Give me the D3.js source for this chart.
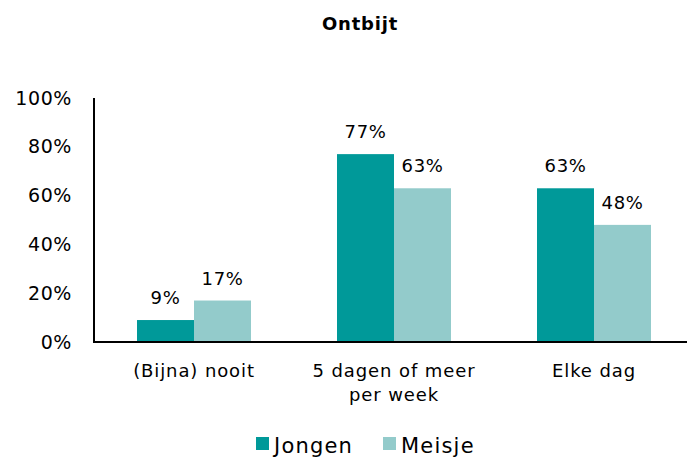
<!DOCTYPE html>
<html>
<head>
<meta charset="utf-8">
<script src="https://cdn.jsdelivr.net/npm/d3@7"></script>
<style>
  html, body { margin: 0; padding: 0; background: #fff; }
  svg { display: block; font-family: "DejaVu Sans", sans-serif; }
</style>
</head>
<body>
<svg id="chart" width="687" height="461"></svg>
<script>
// Ontbijt: share of boys and girls per breakfast frequency
const categories = [["(Bijna) nooit"], ["5 dagen of meer", "per week"], ["Elke dag"]];
const seriesNames = ["Jongen", "Meisje"];
const jongen = [9, 77, 63];
const meisje = [17, 63, 48];
const yTicks = [0, 20, 40, 60, 80, 100];
const colors = ["#009999", "#93CBCB"];

const W = 687, H = 461;
const margin = { left: 94, right: -7, top: 98, bottom: 119 };
const svg = d3.select("#chart");

const x = d3.scaleBand()
  .domain(d3.range(categories.length))
  .range([margin.left, W - margin.right])
  .paddingInner(0.43).paddingOuter(0.215);
const x1 = d3.scaleBand().domain(d3.range(seriesNames.length)).range([0, x.bandwidth()]);
const y = d3.scaleLinear().domain([0, 100]).range([H - margin.bottom, margin.top]);

// title
svg.append("text").attr("x", 360).attr("y", 30).attr("text-anchor", "middle")
  .attr("font-weight", "bold").attr("font-size", 18).attr("letter-spacing", 0.8)
  .attr("fill", "#000").text("Ontbijt");

// y axis labels
const yAxis = d3.axisLeft(y).tickValues(yTicks).tickFormat(d => d + "%").tickSize(0).tickPadding(22);
const gy = svg.append("g").attr("transform", `translate(${margin.left},0)`).call(yAxis);
gy.select(".domain").remove();
gy.selectAll("text").attr("font-size", 19).attr("letter-spacing", 0.6)
  .attr("fill", "#000").attr("font-family", "DejaVu Sans, sans-serif");

// bars
const data = categories.map((c, i) => [jongen[i], meisje[i]]);
const groups = svg.append("g").selectAll("g").data(data).join("g")
  .attr("transform", (d, i) => `translate(${x(i)},0)`);
groups.selectAll("rect").data(d => d).join("rect")
  .attr("x", (d, j) => x1(j))
  .attr("y", d => y(d))
  .attr("width", x1.bandwidth())
  .attr("height", d => y(0) - y(d))
  .attr("fill", (d, j) => colors[j]);
groups.selectAll("text.val").data(d => d).join("text")
  .attr("class", "val")
  .attr("x", (d, j) => x1(j) + x1.bandwidth() / 2)
  .attr("y", d => y(d) - 16)
  .attr("text-anchor", "middle").attr("font-size", 18).attr("letter-spacing", 0.6)
  .attr("fill", "#000")
  .text(d => d + "%");

// axis lines
svg.append("line").attr("x1", margin.left).attr("x2", margin.left)
  .attr("y1", y(100)).attr("y2", y(0) + 1).attr("stroke", "#000").attr("stroke-width", 2);
svg.append("line").attr("x1", margin.left - 1).attr("x2", W)
  .attr("y1", y(0)).attr("y2", y(0)).attr("stroke", "#000").attr("stroke-width", 2);

// category labels
const cat = svg.append("g").selectAll("text").data(categories).join("text")
  .attr("x", (d, i) => x(i) + x.bandwidth() / 2)
  .attr("y", 377).attr("text-anchor", "middle").attr("font-size", 18)
  .attr("letter-spacing", 0.9).attr("fill", "#000");
cat.selectAll("tspan").data(d => d).join("tspan")
  .attr("x", function () { return this.parentNode.getAttribute("x"); })
  .attr("dy", (d, k) => k === 0 ? 0 : 24)
  .text(d => d);

// legend
const legendItems = [{ name: seriesNames[0], x: 256 }, { name: seriesNames[1], x: 383 }];
const lg = svg.append("g").selectAll("g").data(legendItems).join("g");
lg.append("rect").attr("x", d => d.x).attr("y", 437).attr("width", 13).attr("height", 13)
  .attr("fill", (d, i) => colors[i]);
lg.append("text").attr("x", d => d.x + 18).attr("y", 453).attr("font-size", 21)
  .attr("letter-spacing", 1.2).attr("fill", "#000")
  .text(d => d.name);
</script>
</body>
</html>
